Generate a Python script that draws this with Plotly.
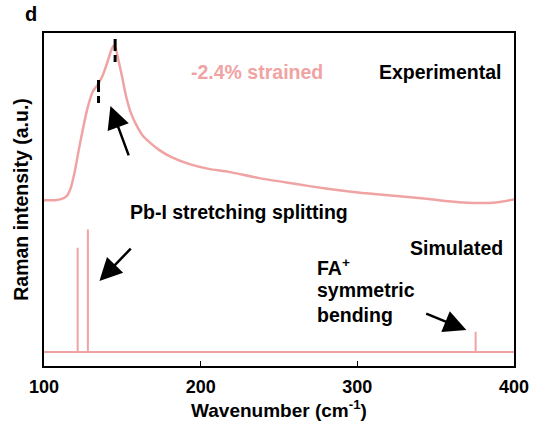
import plotly.graph_objects as go

# Experimental Raman spectrum (-2.4% strained film), intensity in a.u.
exp_wavenumber = [100.0, 107.0, 111.4, 114.6, 117.1, 119.6, 122.2, 124.7, 127.8, 131.0,
                  134.2, 137.3, 140.5, 143.0, 144.3, 145.6, 147.5, 150.0, 152.5, 155.7,
                  158.9, 162.7, 167.1, 173.4, 181.0, 192.4, 205.1, 217.7, 236.7, 260.1,
                  281.0, 301.9, 323.4, 344.3, 365.2, 386.7, 400.0]
exp_intensity = [0.498, 0.498, 0.502, 0.511, 0.535, 0.583, 0.649, 0.709, 0.775, 0.823,
                 0.844, 0.871, 0.913, 0.949, 0.961, 0.955, 0.919, 0.865, 0.808, 0.757,
                 0.724, 0.694, 0.673, 0.649, 0.628, 0.607, 0.592, 0.583, 0.565, 0.547,
                 0.532, 0.520, 0.511, 0.502, 0.492, 0.490, 0.500]

# Simulated stick spectrum
sim_baseline = 0.042
sim_peak_pos = [121.5, 128.0, 375.5]
sim_peak_top = [0.355, 0.410, 0.103]

# Split-peak markers on the experimental curve: (position, bottom, top)
split_marker_pos = [134.8, 145.4]
split_marker_lo = [0.790, 0.910]
split_marker_hi = [0.859, 0.982]

x_ticks = [100, 200, 300, 400]

PINK = "#F0A3A3"
FONT = "Arial, Liberation Sans, sans-serif"

# Build the stick spectrum path: baseline with vertical spikes
sim_x, sim_y = [100.0], [sim_baseline]
for p, h in zip(sim_peak_pos, sim_peak_top):
    sim_x += [p, p, p]
    sim_y += [sim_baseline, h, sim_baseline]
sim_x.append(400.0)
sim_y.append(sim_baseline)

fig = go.Figure()
fig.add_trace(go.Scatter(x=exp_wavenumber, y=exp_intensity, mode="lines",
                         line=dict(color=PINK, width=2.5, shape="spline", smoothing=0.6),
                         hoverinfo="skip", showlegend=False))
fig.add_trace(go.Scatter(x=sim_x, y=sim_y, mode="lines",
                         line=dict(color=PINK, width=2),
                         hoverinfo="skip", showlegend=False))

# Dashed split markers, drawn top-down so the long dash sits on top
for p, lo, hi in zip(split_marker_pos, split_marker_lo, split_marker_hi):
    fig.add_shape(type="line", x0=p, x1=p, y0=hi, y1=lo, xref="x", yref="y",
                  line=dict(color="black", width=3, dash="12px,4px,7px"))

def arrow(x, y, ax, ay):
    fig.add_annotation(x=x, y=y, ax=ax, ay=ay, xref="x", yref="y", axref="x", ayref="y",
                       text="", showarrow=True, arrowhead=2, arrowsize=1.8,
                       arrowwidth=2.5, arrowcolor="black", standoff=0)

arrow(142.4, 0.781, 154.4, 0.628)
arrow(135.4, 0.255, 156.3, 0.357)
arrow(369.6, 0.108, 343.0, 0.159)

def label(x, y, text, color="black", size=19.5, xanchor="center"):
    fig.add_annotation(x=x, y=y, xref="x", yref="y", text="<b>" + text + "</b>",
                       showarrow=False, xanchor=xanchor, yanchor="middle",
                       font=dict(family=FONT, size=size, color=color))

label(236.0, 0.883, "-2.4% strained", color=PINK)
label(352.5, 0.883, "Experimental")
label(224.5, 0.462, "Pb-I stretching splitting")
label(363.5, 0.354, "Simulated")
label(272.8, 0.297, "FA<sup>+</sup>", xanchor="left")
label(272.8, 0.228, "symmetric", xanchor="left")
label(272.8, 0.153, "bending", xanchor="left")

fig.add_annotation(x=0.0, y=1.0, xref="paper", yref="paper", xshift=-13, yshift=19,
                   text="<b>d</b>", showarrow=False, xanchor="center", yanchor="middle",
                   font=dict(family=FONT, size=20, color="black"))

fig.update_xaxes(range=[100, 400], tickvals=x_ticks, ticktext=["<b>%d</b>" % t for t in x_ticks],
                 ticks="inside", ticklen=5,
                 tickwidth=1.3, tickcolor="black", showline=True, linecolor="black",
                 linewidth=1.5, mirror=True, showgrid=False, zeroline=False,
                 ticklabelstandoff=4,
                 tickfont=dict(family=FONT, size=18, color="black"),
                 title=dict(text="<b>Wavenumber (cm<sup>-1</sup>)</b>", standoff=4,
                            font=dict(family=FONT, size=19, color="black")))
fig.update_yaxes(range=[0, 1], showticklabels=False, ticks="", showline=True,
                 linecolor="black", linewidth=1.5, mirror=True, showgrid=False,
                 zeroline=False,
                 title=dict(text="<b>Raman intensity (a.u.)</b>", standoff=8,
                            font=dict(family=FONT, size=19.5, color="black")))

fig.update_layout(width=541, height=429, margin=dict(l=44, r=23, t=33, b=63),
                  paper_bgcolor="white", plot_bgcolor="white", showlegend=False)

fig.write_html("out.html")
